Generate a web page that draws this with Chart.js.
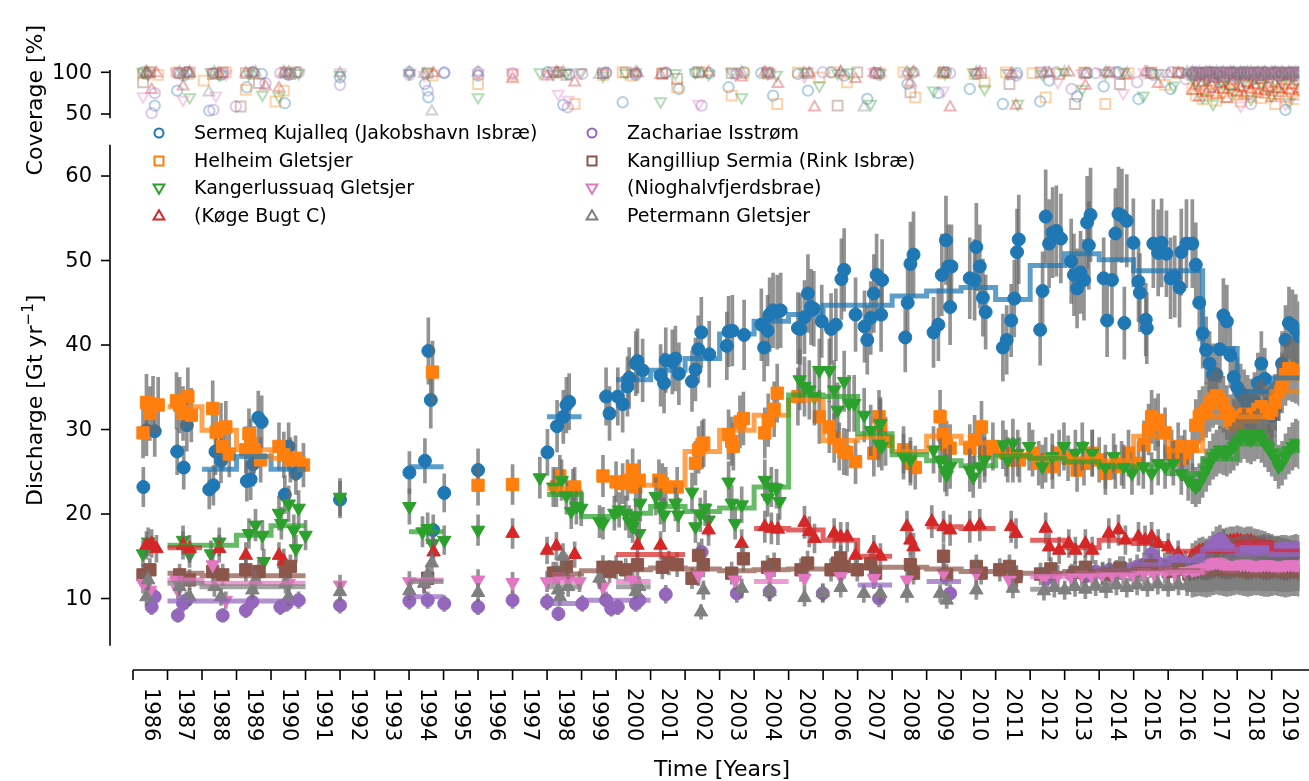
<!DOCTYPE html>
<html>
<head>
<meta charset="utf-8">
<script src="https://cdn.jsdelivr.net/npm/chart.js@4.4.1/dist/chart.umd.min.js"></script>
<style>
  html, body { margin: 0; background: #fff; }
  canvas { display: block; }
</style>
</head>
<body>
<canvas id="discharge" width="1309" height="781"></canvas>
<script>
// Ice discharge of the largest Greenland outlet glaciers, with coverage panel on top

const glacierNames = [
  'Sermeq Kujalleq (Jakobshavn Isbræ)', 'Helheim Gletsjer', 'Kangerlussuaq Gletsjer', '(Køge Bugt C)',
  'Zachariae Isstrøm', 'Kangilliup Sermia (Rink Isbræ)', '(Nioghalvfjerdsbrae)', 'Petermann Gletsjer'
];
const colours = ['#1f77b4', '#ff7f0e', '#2ca02c', '#d62728', '#9467bd', '#8c564b', '#e377c2', '#7f7f7f'];
const shapes = ['circle', 'rect', 'triangle', 'triangle', 'circle', 'rect', 'triangle', 'triangle'];
const turns = [0, 0, 180, 0, 0, 0, 180, 0];

const yearLabels = [1986, 1987, 1988, 1989, 1990, 1991, 1992, 1993, 1994, 1995, 1996, 1997, 1998, 1999, 2000,
  2001, 2002, 2003, 2004, 2005, 2006, 2007, 2008, 2009, 2010, 2011, 2012, 2013, 2014, 2015, 2016, 2017, 2018, 2019];
const dischargeTicks = [10, 20, 30, 40, 50, 60];
const coverageTicks = [50, 100];

// relative uncertainty of each discharge estimate
const uncertainty = 0.1;

// Sentinel-1 era: one sample every 0.1 yr starting here
const denseStart = 2016.7;
const denseStep = 0.1;

// ---- discharge [Gt/yr] : [decimal year, value]
const jakPoints = [[1986.30,23.2],[1986.39,29.9],[1986.63,29.8],[1987.28,27.4],[1987.47,25.5],[1987.56,30.5],[1988.21,22.9],[1988.33,23.4],[1988.39,27.4],[1988.55,26.3],[1989.30,23.9],[1989.41,24.1],[1989.48,25.9],[1989.63,31.4],[1989.73,30.9],[1990.40,22.3],[1990.51,28.0],[1990.72,24.8],[1992.00,21.7],[1994.01,24.9],[1994.46,26.3],[1994.56,39.3],[1994.63,33.5],[1994.70,18.1],[1995.02,22.5],[1996.00,25.2],[1998.01,27.3],[1998.29,30.4],[1998.47,31.5],[1998.56,32.9],[1998.64,33.3],[1999.71,33.9],[1999.81,31.9],[2000.05,33.9],[2000.19,33.0],[2000.33,35.1],[2000.38,36.1],[2000.57,37.8],[2000.62,38.1],[2000.77,37.0],[2001.29,36.4],[2001.39,35.5],[2001.44,38.2],[2001.63,38.0],[2001.72,38.4],[2001.82,36.6],[2002.20,35.7],[2002.30,37.1],[2002.38,39.5],[2002.47,41.5],[2002.70,38.9],[2003.21,39.9],[2003.26,41.6],[2003.37,41.7],[2003.71,41.2],[2004.21,42.4],[2004.29,39.7],[2004.39,41.7],[2004.45,43.6],[2004.55,44.1],[2004.67,43.9],[2004.77,44.1],[2005.27,42.0],[2005.34,41.9],[2005.46,43.3],[2005.56,46.1],[2005.65,44.5],[2005.73,44.3],[2005.96,42.8],[2006.23,41.9],[2006.37,42.4],[2006.53,47.8],[2006.61,48.9],[2006.94,43.6],[2007.20,42.2],[2007.28,40.6],[2007.38,43.2],[2007.47,46.1],[2007.55,48.3],[2007.68,43.6],[2007.71,47.7],[2008.38,40.9],[2008.45,45.0],[2008.53,49.6],[2008.62,50.7],[2009.20,41.5],[2009.34,42.4],[2009.44,48.3],[2009.56,52.4],[2009.63,49.3],[2009.68,44.5],[2009.72,49.3],[2010.25,47.9],[2010.39,47.7],[2010.44,51.6],[2010.54,49.3],[2010.63,45.6],[2010.71,43.9],[2011.21,39.7],[2011.32,40.6],[2011.45,42.9],[2011.54,45.5],[2011.62,51.0],[2011.67,52.5],[2012.29,41.8],[2012.36,46.4],[2012.45,55.2],[2012.55,52.0],[2012.65,53.3],[2012.76,53.5],[2012.89,52.6],[2013.19,49.9],[2013.27,48.3],[2013.36,46.7],[2013.46,48.6],[2013.56,47.7],[2013.65,54.5],[2013.70,51.8],[2013.75,55.4],[2014.13,47.9],[2014.23,42.9],[2014.37,47.7],[2014.47,53.2],[2014.56,55.5],[2014.66,55.3],[2014.73,42.6],[2014.80,54.7],[2014.99,52.1],[2015.14,47.5],[2015.18,46.2],[2015.35,43.0],[2015.38,42.0],[2015.57,52.0],[2015.71,50.9],[2015.81,52.1],[2015.95,50.8],[2016.07,47.9],[2016.19,48.1],[2016.33,46.8],[2016.38,51.0],[2016.53,52.0]];
const jakDense = [52.0,49.5,45.0,41.4,39.4,37.8,36.5,36.5,39.5,43.5,42.8,38.8,36.2,35.0,34.3,33.7,33.1,32.7,33.4,35.5,37.8,36.0,33.0,31.6,32.5,34.5,37.8,40.6,42.6,42.3,41.8,41.0];

const helPoints = [[1986.29,29.6],[1986.39,33.2],[1986.49,31.9],[1986.58,33.0],[1986.73,32.9],[1987.26,33.4],[1987.35,32.9],[1987.45,31.9],[1987.59,33.9],[1987.69,31.7],[1988.31,32.5],[1988.41,29.7],[1988.55,30.1],[1988.60,28.0],[1988.69,30.3],[1988.79,27.1],[1989.27,27.6],[1989.36,29.5],[1989.41,28.4],[1989.51,27.6],[1989.70,26.4],[1990.23,28.0],[1990.37,27.0],[1990.56,26.4],[1990.71,26.6],[1990.94,25.8],[1994.68,36.8],[1996.00,23.4],[1997.00,23.5],[1998.27,23.2],[1998.37,24.5],[1998.75,23.0],[1998.80,23.2],[1999.62,24.5],[2000.00,23.8],[2000.19,23.6],[2000.33,24.0],[2000.48,25.2],[2000.57,23.2],[2000.67,24.0],[2001.24,24.0],[2001.34,23.6],[2001.44,23.2],[2001.77,23.2],[2002.30,26.0],[2002.39,27.6],[2002.49,28.2],[2002.54,28.4],[2003.26,29.4],[2003.35,28.6],[2003.40,28.0],[2003.59,30.9],[2003.69,31.3],[2004.31,29.6],[2004.41,31.1],[2004.58,32.4],[2004.67,34.3],[2005.27,33.9],[2005.89,31.5],[2006.18,30.3],[2006.32,29.0],[2006.47,28.0],[2006.60,27.4],[2006.69,27.3],[2006.94,26.2],[2007.47,27.2],[2007.62,31.5],[2007.66,30.5],[2007.81,28.6],[2008.33,27.6],[2008.53,26.0],[2008.67,25.5],[2009.39,31.5],[2009.48,29.4],[2009.58,28.2],[2009.68,27.8],[2010.25,27.8],[2010.39,28.8],[2010.59,30.3],[2010.68,27.2],[2010.92,28.0],[2011.30,27.2],[2011.50,26.4],[2011.69,26.4],[2012.07,27.2],[2012.25,26.0],[2012.45,26.4],[2012.65,25.6],[2012.84,27.2],[2013.10,26.6],[2013.36,25.2],[2013.56,26.0],[2013.80,27.2],[2014.00,26.4],[2014.18,24.8],[2014.47,25.6],[2014.65,26.0],[2014.85,27.2],[2015.14,26.0],[2015.30,28.2],[2015.43,30.0],[2015.52,31.5],[2015.62,30.6],[2015.71,31.1],[2015.91,29.6],[2016.10,27.2],[2016.29,28.0],[2016.40,26.6],[2016.48,27.2]];
const helDense = [28.0,30.5,31.5,31.9,32.3,33.1,33.6,34.0,33.5,33.0,32.0,31.0,30.5,30.8,31.5,31.8,31.6,31.5,31.8,32.4,32.7,32.2,31.9,32.3,33.2,34.5,35.5,36.5,37.2,37.0,36.8,36.5];

const kanPoints = [[1986.29,15.3],[1986.44,16.7],[1987.45,16.9],[1987.64,15.2],[1988.26,15.3],[1988.50,16.7],[1989.36,17.7],[1989.55,18.7],[1989.75,17.5],[1989.79,14.4],[1990.23,20.1],[1990.30,18.9],[1990.51,21.2],[1990.66,18.1],[1990.72,15.9],[1990.80,20.7],[1991.00,17.5],[1992.00,22.0],[1994.01,20.9],[1994.39,17.9],[1994.54,18.3],[1994.68,16.5],[1995.02,16.9],[1996.00,18.1],[1997.79,24.3],[1998.18,23.2],[1998.42,24.0],[1998.56,22.2],[1998.70,20.3],[1998.85,20.9],[1998.99,20.7],[1999.52,19.1],[1999.62,18.9],[1999.95,20.1],[2000.09,20.5],[2000.28,20.1],[2000.38,19.1],[2000.48,18.5],[2000.57,19.7],[2000.67,17.7],[2000.70,21.3],[2001.15,22.1],[2001.29,20.9],[2001.39,19.9],[2001.72,21.3],[2001.80,19.9],[2002.20,22.6],[2002.30,18.5],[2002.44,19.9],[2002.58,20.7],[2002.68,19.3],[2003.26,23.8],[2003.35,21.3],[2003.45,18.9],[2003.64,21.1],[2004.31,24.0],[2004.39,21.9],[2004.50,23.2],[2004.65,23.0],[2004.74,21.5],[2005.32,35.9],[2005.46,35.1],[2005.60,34.7],[2005.75,33.9],[2005.89,37.0],[2006.18,37.0],[2006.32,34.7],[2006.42,32.3],[2006.61,35.7],[2006.75,33.1],[2006.90,33.1],[2007.19,31.7],[2007.38,29.9],[2007.61,28.4],[2007.66,30.7],[2007.70,28.0],[2008.33,26.8],[2008.53,26.4],[2009.20,27.6],[2009.39,26.4],[2009.53,25.2],[2009.58,24.6],[2009.68,25.6],[2010.25,25.2],[2010.35,24.4],[2010.54,25.6],[2010.68,26.4],[2011.21,28.2],[2011.35,26.4],[2011.50,28.4],[2011.64,27.2],[2011.97,28.0],[2012.35,25.6],[2012.64,26.8],[2012.98,28.0],[2013.31,27.2],[2013.51,28.0],[2013.80,27.2],[2014.18,25.6],[2014.42,26.8],[2014.71,25.6],[2014.95,24.8],[2015.28,25.6],[2015.52,24.8],[2015.71,26.0],[2015.91,25.6],[2016.15,26.0],[2016.38,24.8],[2016.58,24.0]];
const kanDense = [23.6,23.2,23.6,24.4,25.2,26.0,26.8,27.2,27.6,27.4,27.2,27.6,28.0,28.6,29.0,29.5,29.0,28.8,29.2,29.5,29.0,28.4,27.8,27.2,26.6,25.6,26.0,26.8,27.5,28.0,28.4,28.2];

const kogPoints = [[1986.39,16.3],[1986.54,16.5],[1986.68,15.9],[1987.45,16.3],[1987.64,15.9],[1988.50,15.9],[1989.27,15.1],[1990.23,15.1],[1990.37,14.4],[1994.71,15.5],[1997.00,17.7],[1998.00,15.7],[1998.27,16.2],[1998.80,15.2],[2000.62,16.3],[2001.29,16.3],[2002.68,18.1],[2003.64,16.5],[2004.31,18.5],[2004.50,18.3],[2004.69,18.2],[2005.46,19.0],[2005.60,17.9],[2005.75,17.1],[2006.32,17.7],[2006.51,17.3],[2006.70,17.3],[2006.94,15.1],[2007.47,15.9],[2007.66,15.0],[2008.43,18.5],[2008.53,16.9],[2008.62,16.1],[2009.15,19.1],[2009.49,18.5],[2009.68,18.1],[2010.25,18.5],[2010.54,18.7],[2011.45,18.5],[2011.59,17.7],[2012.45,18.3],[2012.55,16.1],[2012.84,15.7],[2013.12,16.5],[2013.31,15.7],[2013.60,16.5],[2013.80,15.7],[2014.28,17.7],[2014.56,18.1],[2014.76,16.9],[2015.14,17.3],[2015.33,16.9],[2015.52,17.3],[2015.71,16.5],[2016.00,16.1],[2016.29,15.3]];
const kogDense = [15.0,15.3,15.6,15.7,15.5,15.4,15.5,15.9,16.2,16.5,16.7,16.8,16.8,16.9,16.8,16.7,16.8,16.8,16.6,16.5,16.4,16.3,16.1,16.0,15.8,15.7,15.6,15.5,15.4,15.3,15.3,15.2];

const zacPoints = [[1986.54,9.0],[1986.63,10.2],[1987.30,8.0],[1987.45,9.4],[1987.55,9.8],[1988.60,8.0],[1989.27,8.6],[1989.46,9.6],[1990.27,9.0],[1990.46,9.4],[1990.80,9.8],[1992.00,9.2],[1994.01,9.7],[1994.54,9.8],[1995.02,9.4],[1996.00,9.0],[1997.00,9.8],[1998.00,9.6],[1998.33,8.2],[1999.02,9.4],[1999.71,9.8],[1999.86,8.8],[2000.05,9.0],[2000.57,9.4],[2000.67,9.8],[2001.44,10.5],[2002.48,15.5],[2003.50,10.6],[2004.45,10.8],[2005.99,10.6],[2007.62,10.0],[2009.68,10.6],[2011.60,12.6],[2012.50,12.4],[2013.20,12.8],[2013.60,12.6],[2013.90,13.2],[2014.10,13.0],[2014.30,13.4],[2014.50,13.2],[2014.70,13.6],[2014.90,13.4],[2015.10,13.8],[2015.30,14.0],[2015.52,15.3],[2015.70,14.2],[2015.90,14.0],[2016.10,14.3],[2016.29,14.5],[2016.50,14.2]];
const zacDense = [14.0,14.2,14.5,14.9,15.3,15.8,16.3,16.8,17.0,16.6,16.0,15.7,15.6,15.7,15.8,15.9,16.0,15.8,15.7,15.8,15.9,16.0,15.9,15.8,15.7,15.8,15.9,15.9,15.8,15.9,16.0,15.9];

const rinPoints = [[1986.29,12.8],[1986.49,13.4],[1987.35,12.8],[1987.64,12.2],[1988.31,13.2],[1988.60,12.8],[1989.27,13.4],[1989.65,13.2],[1990.42,13.2],[1990.56,13.8],[1994.54,12.4],[1998.18,13.0],[1998.27,13.0],[1998.56,13.8],[1999.62,13.7],[1999.81,13.2],[2000.00,13.7],[2000.28,13.4],[2000.62,14.0],[2001.34,13.7],[2001.53,14.2],[2001.77,14.0],[2002.20,12.4],[2002.39,15.1],[2002.53,14.0],[2003.35,13.0],[2003.69,14.7],[2004.39,13.7],[2004.58,14.0],[2005.36,13.4],[2005.55,14.2],[2006.23,13.4],[2006.42,14.2],[2006.51,14.8],[2006.61,13.8],[2006.99,13.4],[2007.38,14.1],[2007.52,13.0],[2008.53,14.0],[2008.62,13.0],[2009.49,15.0],[2009.58,12.8],[2010.44,13.8],[2010.58,13.0],[2011.12,13.4],[2011.40,13.8],[2011.59,12.6],[2012.30,12.9],[2012.60,13.5],[2013.30,13.1],[2013.60,13.7],[2014.30,12.9],[2014.60,13.6],[2015.20,13.4],[2015.50,13.9],[2016.00,13.2],[2016.30,13.5],[2016.60,12.9]];
const rinDense = [12.8,12.9,13.0,13.1,13.0,12.9,12.8,12.9,13.0,13.1,13.0,12.9,12.8,12.8,12.9,13.0,12.9,12.8,12.7,12.8,12.9,12.8,12.7,12.7,12.8,12.9,12.8,12.7,12.7,12.8,12.8,12.7];

const nioPoints = [[1986.29,11.8],[1986.49,11.0],[1987.26,12.2],[1987.30,11.0],[1988.31,14.0],[1988.69,9.8],[1990.51,11.8],[1992.00,11.6],[1994.01,12.0],[1994.44,11.8],[1996.00,12.2],[1997.00,11.9],[1998.00,12.0],[1998.32,12.6],[1998.61,12.2],[1998.94,12.0],[1999.62,11.4],[2000.48,12.2],[2002.39,12.8],[2003.45,12.2],[2004.45,12.8],[2005.46,12.4],[2006.51,12.6],[2007.47,12.4],[2008.43,12.2],[2009.49,13.0],[2010.44,13.0],[2011.40,12.2],[2012.40,12.4],[2012.80,12.7],[2013.20,12.5],[2013.50,12.8],[2013.80,12.6],[2014.10,12.9],[2014.40,12.7],[2014.70,13.0],[2015.00,12.8],[2015.30,13.1],[2015.60,12.9],[2015.90,13.2],[2016.20,13.0],[2016.50,13.2]];
const nioDense = [13.3,13.4,13.5,13.6,13.8,14.0,14.2,14.3,14.2,14.0,13.9,13.8,13.8,13.9,14.0,14.1,14.0,13.9,13.8,13.8,13.9,14.0,14.0,13.9,13.8,13.7,13.8,13.9,14.0,14.0,13.9,13.8];

const petPoints = [[1986.39,10.2],[1986.44,12.2],[1987.35,11.4],[1987.64,10.2],[1988.36,11.4],[1988.55,10.2],[1989.46,11.0],[1989.55,12.2],[1990.42,11.8],[1990.51,10.2],[1992.00,10.8],[1994.01,10.9],[1994.44,11.8],[1994.54,12.8],[1994.66,14.2],[1996.00,10.7],[1998.32,11.0],[1998.37,10.2],[1998.46,15.0],[1998.61,11.4],[1999.52,12.4],[2000.57,10.8],[2000.67,11.4],[2002.46,8.4],[2002.53,11.0],[2003.64,11.2],[2004.45,10.8],[2005.46,10.1],[2005.99,10.7],[2006.51,11.3],[2007.18,10.6],[2007.66,10.6],[2008.43,10.6],[2009.39,10.6],[2009.58,9.8],[2010.44,11.0],[2011.50,11.2],[2012.40,10.9],[2012.70,11.3],[2013.00,11.0],[2013.30,11.4],[2013.60,11.1],[2013.90,11.5],[2014.20,11.2],[2014.50,11.6],[2014.80,11.3],[2015.10,11.6],[2015.40,11.4],[2015.70,11.7],[2016.00,11.4],[2016.30,11.6],[2016.55,11.5]];
const petDense = [11.3,11.4,11.5,11.4,11.3,11.4,11.6,11.7,11.6,11.5,11.4,11.5,11.6,11.7,11.6,11.5,11.4,11.5,11.6,11.6,11.5,11.4,11.4,11.5,11.6,11.5,11.4,11.3,11.4,11.5,11.5,11.4];

// ---- annual means [Gt/yr] : [year, value], drawn as steps over the year
const jakAnnual = [[1988,25.3],[1989,26.8],[1990,25.3],[1994,25.6],[1998,31.5],[2000,35.9],[2001,37.0],[2002,38.4],[2003,41.3],[2004,42.8],[2005,43.6],[2006,44.7],[2007,44.7],[2008,45.8],[2009,46.4],[2010,46.8],[2011,45.4],[2012,49.4],[2013,50.8],[2014,50.1],[2015,48.8],[2016,48.8],[2017,39.6],[2018,34.5],[2019,36.1]];
const helAnnual = [[1987,32.7],[1988,29.9],[1989,27.6],[1990,26.6],[1998,23.0],[2000,23.4],[2001,23.4],[2002,27.4],[2003,29.9],[2004,31.7],[2005,33.5],[2006,28.7],[2007,29.1],[2008,27.4],[2009,29.2],[2010,28.4],[2011,27.0],[2012,26.7],[2013,26.5],[2014,26.3],[2015,29.2],[2016,27.5],[2017,31.5],[2018,31.5],[2019,34.5]];
const kanAnnual = [[1987,16.3],[1988,16.3],[1989,17.5],[1990,18.6],[1994,17.9],[1998,22.3],[1999,19.7],[2000,20.1],[2001,20.9],[2002,20.3],[2003,20.7],[2004,23.2],[2005,34.1],[2006,33.9],[2007,29.5],[2008,27.0],[2009,26.3],[2010,25.7],[2011,26.9],[2012,26.6],[2013,26.2],[2014,25.6],[2015,25.6],[2016,24.8],[2017,26.5],[2018,28.3],[2019,27.5]];
const kogAnnual = [[1987,16.0],[2000,15.2],[2001,15.2],[2004,18.3],[2005,18.1],[2006,16.9],[2007,15.0],[2009,18.5],[2010,18.3],[2012,16.9],[2013,16.0],[2014,16.9],[2015,16.5],[2016,15.6],[2017,15.6],[2018,16.6],[2019,15.6]];
const zacAnnual = [[1987,9.7],[1988,9.7],[1989,9.7],[1990,9.7],[1994,10.2],[1998,9.4],[1999,9.8],[2000,9.8],[2007,11.6],[2009,12.0],[2014,13.3],[2015,14.0],[2016,14.5],[2017,15.8],[2018,15.3],[2019,15.2]];
const rinAnnual = [[1987,13.0],[1988,12.7],[1989,12.7],[1990,12.7],[1998,12.9],[1999,13.3],[2000,13.4],[2001,13.6],[2002,13.5],[2003,13.3],[2004,13.4],[2005,13.5],[2006,13.5],[2007,13.7],[2008,13.7],[2009,13.5],[2010,13.2],[2011,13.0],[2012,13.0],[2013,13.2],[2014,13.3],[2015,13.5],[2016,13.3],[2017,13.0],[2018,12.8],[2019,12.8]];
const nioAnnual = [[1987,12.2],[1988,11.8],[1989,11.8],[1990,11.8],[1994,12.2],[1998,12.0],[2000,12.0],[2004,12.0],[2012,12.6],[2013,12.7],[2014,12.8],[2015,13.0],[2016,13.1],[2017,13.9],[2018,13.9],[2019,13.9]];
const petAnnual = [[1987,11.8],[1988,11.4],[1989,11.4],[1990,11.4],[1994,12.0],[1998,11.4],[2000,11.4],[2012,11.1],[2013,11.2],[2014,11.4],[2015,11.5],[2016,11.5],[2017,11.5],[2018,11.5],[2019,11.5]];

// ---- flux-gate coverage [%] : [decimal year, value]
const jakCov = [[1986.30,100],[1986.39,98],[1986.63,60],[1987.28,78],[1987.47,96],[1987.56,100],[1988.21,54],[1988.33,99],[1988.55,97],[1989.30,82],[1989.48,100],[1989.73,98],[1990.40,63],[1990.51,97],[1990.72,100],[1992.00,94],[1994.01,100],[1994.46,86],[1994.56,70],[1995.02,99],[1996.00,96],[1998.01,100],[1998.47,61],[1998.64,98],[1999.71,99],[2000.19,64],[2000.57,97],[2001.44,99],[2001.82,80],[2002.30,100],[2002.70,99],[2003.26,82],[2003.71,100],[2004.21,99],[2004.55,72],[2005.27,98],[2005.56,78],[2006.23,100],[2006.61,96],[2007.28,68],[2007.55,99],[2008.45,86],[2008.62,100],[2009.34,75],[2009.56,100],[2010.25,80],[2010.44,98],[2011.21,62],[2011.62,99],[2012.29,65],[2012.55,90],[2012.76,100],[2013.36,71],[2013.65,99],[2014.13,83],[2014.56,100],[2015.14,68],[2015.57,97],[2016.07,80],[2016.38,99]];
const jakCovDense = [100,96,88,99,92,100,83,97,100,90,99,85,100,94,98,100,87,99,100,93,97,100,82,98,100,95,99,55,100,97,91,100];
const helCov = [[1986.29,99],[1986.49,100],[1986.73,97],[1987.26,100],[1987.59,98],[1988.05,90],[1988.41,99],[1988.69,100],[1989.27,79],[1989.51,98],[1990.13,65],[1990.37,78],[1990.71,100],[1994.68,96],[1996.00,86],[1997.00,97],[1998.37,100],[1998.80,62],[1999.62,97],[2000.19,100],[2000.48,96],[2001.34,99],[2001.77,82],[2002.49,100],[2003.35,72],[2003.69,99],[2004.41,98],[2004.67,62],[2005.27,100],[2005.89,94],[2006.32,100],[2006.69,88],[2007.62,99],[2008.33,100],[2008.67,70],[2009.48,99],[2010.39,98],[2010.68,88],[2011.30,100],[2012.07,99],[2012.45,70],[2012.84,98],[2013.56,100],[2014.18,62],[2014.85,99],[2015.52,100],[2015.91,85],[2016.29,99]];
const helCovDense = [80,72,85,68,78,90,74,66,82,76,70,88,79,73,65,84,77,71,86,80,69,75,83,78,62,74,81,70,87,76,68,79];
const kanCov = [[1986.29,100],[1986.44,98],[1987.45,99],[1987.64,70],[1988.26,100],[1988.50,97],[1989.36,98],[1989.75,73],[1990.23,71],[1990.51,100],[1990.80,99],[1992.00,97],[1994.01,99],[1994.54,100],[1996.00,70],[1997.79,100],[1998.18,98],[1998.56,99],[1998.99,100],[1999.62,96],[2000.28,99],[2000.57,100],[2001.29,65],[2001.72,99],[2002.30,100],[2002.68,98],[2003.35,100],[2003.64,70],[2004.39,99],[2004.65,97],[2005.46,100],[2005.89,84],[2006.42,99],[2006.75,100],[2007.38,62],[2007.66,99],[2008.53,100],[2009.20,78],[2009.53,99],[2010.35,100],[2010.68,80],[2011.35,99],[2011.64,62],[2012.35,98],[2012.98,100],[2013.51,80],[2014.18,99],[2014.71,100],[2015.28,72],[2015.71,99],[2016.15,84],[2016.58,100]];
const kanCovDense = [95,88,100,70,92,98,62,90,100,85,94,99,76,96,100,89,97,68,93,100,87,95,99,72,91,100,86,97,64,94,99,90];
const kogCov = [[1986.39,100],[1986.54,79],[1986.68,99],[1987.45,83],[1987.64,100],[1988.50,98],[1989.27,99],[1989.84,83],[1990.23,81],[1990.37,100],[1994.71,99],[1997.00,92],[1998.00,95],[1998.27,100],[1998.80,88],[2000.62,99],[2001.29,97],[2002.68,100],[2003.64,94],[2004.31,100],[2004.69,86],[2005.60,99],[2005.75,58],[2006.51,100],[2006.94,92],[2007.47,99],[2008.53,88],[2008.62,100],[2009.49,99],[2009.68,58],[2010.54,100],[2011.45,98],[2011.59,60],[2012.55,99],[2013.12,100],[2013.60,84],[2014.28,99],[2014.76,96],[2015.33,100],[2015.71,86],[2016.29,99]];
const kogCovDense = [78,84,70,88,75,80,92,73,86,79,68,83,90,76,81,72,87,79,85,74,91,77,82,69,86,80,75,89,78,84,71,80];
const zacCov = [[1986.54,51],[1986.63,75],[1987.30,99],[1987.55,100],[1988.33,55],[1988.60,98],[1988.98,59],[1989.46,100],[1989.84,87],[1990.27,99],[1990.80,100],[1992.00,85],[1994.01,97],[1994.54,78],[1995.02,100],[1996.00,100],[1997.00,99],[1998.33,100],[1998.60,58],[1999.02,98],[1999.71,100],[2000.57,99],[2001.44,100],[2002.48,60],[2003.50,98],[2004.45,99],[2005.99,100],[2007.62,97],[2009.68,99],[2011.60,96],[2012.50,100],[2013.20,80],[2013.90,99],[2014.50,100],[2015.10,88],[2015.52,99],[2016.10,100],[2016.50,92]];
const zacCovDense = [98,100,95,99,100,97,100,99,96,100,98,100,99,97,100,98,100,62,99,100,97,100,98,99,100,96,100,99,98,100,97,99];
const rinCov = [[1986.29,88],[1986.49,100],[1987.35,99],[1987.64,100],[1988.31,98],[1988.60,100],[1989.12,59],[1989.27,99],[1989.65,87],[1990.42,100],[1990.56,98],[1994.54,99],[1998.18,100],[1998.56,97],[1999.62,99],[2000.28,100],[2001.34,98],[2001.77,92],[2002.39,100],[2003.35,99],[2004.39,100],[2005.55,99],[2006.42,60],[2006.99,100],[2007.52,99],[2008.53,76],[2009.49,100],[2010.58,99],[2011.40,86],[2012.30,100],[2013.30,62],[2013.60,99],[2014.30,100],[2014.60,86],[2015.50,99],[2016.30,100]];
const rinCovDense = [97,100,99,98,100,96,99,100,97,95,100,99,98,100,97,99,100,98,96,100,99,97,100,98,99,100,97,98,100,99,96,100];
const nioCov = [[1986.29,71],[1986.49,99],[1987.26,100],[1987.45,67],[1988.31,100],[1988.40,72],[1988.69,98],[1990.51,99],[1992.00,100],[1994.01,99],[1994.44,97],[1996.00,99],[1997.00,100],[1998.00,98],[1998.32,74],[1998.61,67],[1998.94,100],[1999.62,99],[2000.48,100],[2002.39,62],[2003.45,98],[2004.45,100],[2005.46,95],[2006.51,99],[2007.47,100],[2008.43,98],[2009.49,78],[2010.44,100],[2011.40,99],[2012.40,100],[2012.80,88],[2013.50,99],[2014.10,100],[2014.70,75],[2015.30,100],[2015.90,99],[2016.50,100]];
const nioCovDense = [100,98,99,100,97,100,99,92,100,98,100,99,97,100,60,98,100,99,100,97,99,100,98,100,99,96,100,62,99,100,98,100];
const petCov = [[1986.39,100],[1986.44,99],[1987.35,100],[1987.64,98],[1988.20,76],[1988.36,100],[1989.46,99],[1989.55,100],[1990.42,98],[1990.51,100],[1992.00,99],[1994.01,100],[1994.44,98],[1994.66,53],[1996.00,100],[1998.32,99],[1998.46,100],[1999.52,97],[2000.57,100],[2002.46,99],[2003.64,100],[2004.45,98],[2005.46,99],[2006.51,100],[2007.18,58],[2007.66,99],[2008.43,100],[2009.39,99],[2010.44,100],[2011.50,98],[2012.40,99],[2013.00,100],[2013.60,98],[2014.20,100],[2014.80,99],[2015.40,100],[2016.00,98],[2016.55,100]];
const petCovDense = [100,99,100,98,100,100,99,100,97,100,99,100,100,98,100,99,100,100,97,100,99,100,98,100,100,99,100,98,100,99,100,100];

// ---------------------------------------------------------------------------

function dense(values) {
  return values.map((v, i) => [Math.round((denseStart + i * denseStep) * 100) / 100, v]);
}

const dischargeSets = [
  jakPoints.concat(dense(jakDense)), helPoints.concat(dense(helDense)),
  kanPoints.concat(dense(kanDense)), kogPoints.concat(dense(kogDense)),
  zacPoints.concat(dense(zacDense)), rinPoints.concat(dense(rinDense)),
  nioPoints.concat(dense(nioDense)), petPoints.concat(dense(petDense))
];
const annualSets = [jakAnnual, helAnnual, kanAnnual, kogAnnual, zacAnnual, rinAnnual, nioAnnual, petAnnual];
const coverageSets = [
  jakCov.concat(dense(jakCovDense)), helCov.concat(dense(helCovDense)),
  kanCov.concat(dense(kanCovDense)), kogCov.concat(dense(kogCovDense)),
  zacCov.concat(dense(zacCovDense)), rinCov.concat(dense(rinCovDense)),
  nioCov.concat(dense(nioCovDense)), petCov.concat(dense(petCovDense))
];

function rgba(hex, a) {
  const n = parseInt(hex.slice(1), 16);
  return 'rgba(' + (n >> 16) + ',' + ((n >> 8) & 255) + ',' + (n & 255) + ',' + a + ')';
}

// steps-post: each annual mean spans its whole year, gaps break the line
function stepData(rows) {
  const out = [];
  rows.forEach((row, k) => {
    out.push({x: row[0], y: row[1]});
    const next = rows[k + 1];
    if (!next || next[0] !== row[0] + 1) {
      out.push({x: row[0] + 1, y: row[1]});
      out.push({x: row[0] + 1, y: null});
    }
  });
  return out;
}

function markerSize(i, small) {
  const base = shapes[i] === 'rect' ? 8.7 : shapes[i] === 'triangle' ? 7.8 : 6.5;
  return small ? base * 0.8 : base;
}

const datasets = [];

coverageSets.forEach((rows, i) => {
  datasets.push({
    type: 'scatter',
    yAxisID: 'cov',
    data: rows.map(r => ({x: r[0], y: r[1]})),
    pointStyle: shapes[i],
    pointRotation: turns[i],
    pointRadius: markerSize(i, true),
    pointBackgroundColor: 'rgba(0,0,0,0)',
    pointBorderColor: rgba(colours[i], 0.35),
    pointBorderWidth: 2,
    showLine: false
  });
});

dischargeSets.forEach((rows, i) => {
  datasets.push({
    type: 'bar',
    yAxisID: 'y',
    data: rows.map(r => ({x: r[0], y: [r[1] * (1 - uncertainty), r[1] * (1 + uncertainty)]})),
    backgroundColor: 'rgba(105,105,105,0.72)',
    borderWidth: 0,
    barThickness: 3,
    grouped: false
  });
  datasets.push({
    type: 'scatter',
    yAxisID: 'y',
    data: rows.map(r => ({x: r[0], y: r[1]})),
    pointStyle: shapes[i],
    pointRotation: turns[i],
    pointRadius: markerSize(i, false),
    pointBackgroundColor: colours[i],
    pointBorderColor: colours[i],
    pointBorderWidth: 1,
    showLine: false
  });
});

annualSets.forEach((rows, i) => {
  datasets.push({
    type: 'line',
    yAxisID: 'y',
    data: stepData(rows),
    stepped: true,
    showLine: true,
    spanGaps: false,
    borderColor: rgba(colours[i], 0.72),
    borderWidth: 5,
    borderCapStyle: 'butt',
    pointRadius: 0,
    fill: false
  });
});

// first pushed is painted first
datasets.forEach((d, k) => { d.order = datasets.length - k; });

function seg(ctx, x1, y1, x2, y2) {
  ctx.beginPath();
  ctx.moveTo(x1, y1);
  ctx.lineTo(x2, y2);
  ctx.stroke();
}

function legendMarker(ctx, shape, turn, x, y) {
  const r = 5;
  ctx.beginPath();
  if (shape === 'circle') {
    ctx.arc(x, y, r - 0.5, 0, Math.PI * 2);
  } else if (shape === 'rect') {
    ctx.rect(x - r + 0.5, y - r + 0.5, 2 * r - 1, 2 * r - 1);
  } else {
    const s = turn ? -1 : 1;
    ctx.moveTo(x, y - s * 5.8);
    ctx.lineTo(x + 5.4, y + s * 3.6);
    ctx.lineTo(x - 5.4, y + s * 3.6);
    ctx.closePath();
  }
  ctx.stroke();
}

const frame = {
  id: 'frame',
  afterDraw(chart) {
    const ctx = chart.ctx;
    const xs = chart.scales.x, ys = chart.scales.y, cs = chart.scales.cov;
    const font = '"DejaVu Sans", sans-serif';
    ctx.save();
    ctx.strokeStyle = '#000';
    ctx.fillStyle = '#000';
    ctx.lineWidth = 1.6;

    // left spines, pulled away from the data
    const spineX = 110;
    ctx.font = '21px ' + font;
    ctx.textAlign = 'right';
    ctx.textBaseline = 'middle';
    seg(ctx, spineX, cs.getPixelForValue(102.8), spineX, cs.getPixelForValue(44.8));
    coverageTicks.forEach(v => {
      const p = cs.getPixelForValue(v);
      seg(ctx, spineX - 9, p, spineX, p);
      ctx.fillText(String(v), spineX - 18, p + 1);
    });
    seg(ctx, spineX, ys.getPixelForValue(63.7), spineX, ys.getPixelForValue(4.4));
    dischargeTicks.forEach(v => {
      const p = ys.getPixelForValue(v);
      seg(ctx, spineX - 9, p, spineX, p);
      ctx.fillText(String(v), spineX - 18, p + 1);
    });

    // time axis below the plot, labels centred on each year
    const axisY = 670;
    seg(ctx, xs.getPixelForValue(1986), axisY, chart.width, axisY);
    ctx.textAlign = 'left';
    yearLabels.forEach(yr => {
      const p = xs.getPixelForValue(yr);
      seg(ctx, p, axisY, p, axisY + 10);
      ctx.save();
      ctx.translate(xs.getPixelForValue(yr + 0.5), axisY + 18);
      ctx.rotate(Math.PI / 2);
      ctx.fillText(String(yr), 0, 0);
      ctx.restore();
    });

    // axis titles
    ctx.font = '22px ' + font;
    ctx.textAlign = 'center';
    ctx.textBaseline = 'alphabetic';
    ctx.fillText('Time [Years]', 722, 776);

    ctx.save();
    ctx.translate(42, (cs.getPixelForValue(102.8) + cs.getPixelForValue(44.8)) / 2 + 6);
    ctx.rotate(-Math.PI / 2);
    ctx.fillText('Coverage [%]', 0, 0);
    ctx.restore();

    ctx.save();
    ctx.translate(42, (ys.getPixelForValue(63.7) + ys.getPixelForValue(4.4)) / 2 + 5);
    ctx.rotate(-Math.PI / 2);
    const head = 'Discharge [Gt yr', sup = '\u22121', tail = ']';
    ctx.font = '22px ' + font;
    const wHead = ctx.measureText(head).width, wTail = ctx.measureText(tail).width;
    ctx.font = '15px ' + font;
    const wSup = ctx.measureText(sup).width;
    const x0 = -(wHead + wSup + wTail) / 2;
    ctx.textAlign = 'left';
    ctx.font = '22px ' + font;
    ctx.fillText(head, x0, 0);
    ctx.font = '15px ' + font;
    ctx.fillText(sup, x0 + wHead, -9);
    ctx.font = '22px ' + font;
    ctx.fillText(tail, x0 + wHead + wSup, 0);
    ctx.restore();

    // legend in two columns
    ctx.font = '19px ' + font;
    ctx.textAlign = 'left';
    ctx.textBaseline = 'middle';
    ctx.lineWidth = 2;
    const cols = [[159, 194], [592, 627]];
    const rows = [133, 161, 188, 216];
    glacierNames.forEach((name, i) => {
      const c = cols[Math.floor(i / 4)], y = rows[i % 4];
      ctx.strokeStyle = colours[i];
      legendMarker(ctx, shapes[i], turns[i], c[0], y);
      ctx.fillStyle = '#000';
      ctx.fillText(name, c[1], y + 1);
    });
    ctx.restore();
  }
};

new Chart(document.getElementById('discharge'), {
  type: 'scatter',
  data: {datasets: datasets},
  options: {
    responsive: false,
    devicePixelRatio: 1,
    animation: false,
    events: [],
    layout: {padding: {left: 133, right: 0, top: 60, bottom: 136}},
    plugins: {legend: {display: false}, tooltip: {enabled: false}},
    scales: {
      x: {type: 'linear', min: 1986, max: 2019.8, offset: false, display: false},
      y: {type: 'linear', axis: 'y', position: 'left', min: 4.5, max: 73.73, display: false},
      cov: {type: 'linear', axis: 'y', position: 'left', min: -586.7, max: 114.75, display: false}
    }
  },
  plugins: [frame]
});
</script>
</body>
</html>
